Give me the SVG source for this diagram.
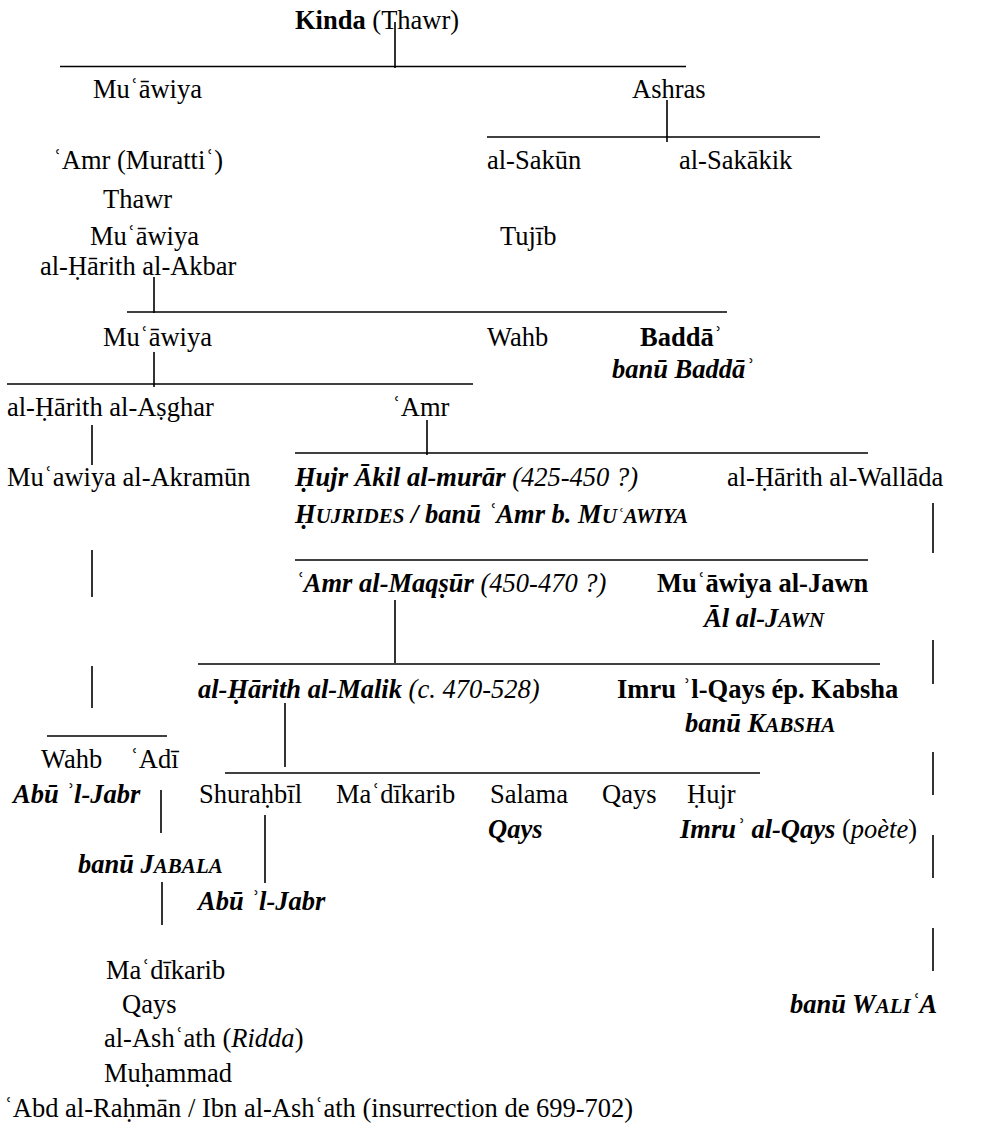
<svg xmlns="http://www.w3.org/2000/svg" width="982" height="1128" viewBox="0 0 982 1128">
<style>
text{font-family:"Liberation Serif","DejaVu Serif",serif;font-size:26.5px;fill:#000}
.b{font-weight:bold}
.i{font-style:italic}
.bi{font-weight:bold;font-style:italic}
.sc{font-size:21px}
.ln{stroke:#000;stroke-width:1.4;fill:none}
.tk{stroke:#000;stroke-width:1.6;fill:none}
</style>
<rect width="982" height="1128" fill="#fff"/>
<g id="connectors">
<line class="tk" x1="395" y1="22" x2="395" y2="68"/>
<line class="ln" x1="60" y1="66.5" x2="686" y2="66.5"/>
<line class="tk" x1="667" y1="100" x2="667" y2="142"/>
<line class="ln" x1="487" y1="137" x2="820" y2="137"/>
<line class="tk" x1="154" y1="277" x2="154" y2="313"/>
<line class="ln" x1="127" y1="312" x2="727" y2="312"/>
<line class="tk" x1="154" y1="352" x2="154" y2="387"/>
<line class="ln" x1="7" y1="384" x2="473" y2="384"/>
<line class="tk" x1="92" y1="425" x2="92" y2="465"/>
<line class="tk" x1="427" y1="420" x2="427" y2="455"/>
<line class="ln" x1="295" y1="453" x2="868" y2="453"/>
<line class="tk" x1="933" y1="503" x2="933" y2="553"/>
<line class="tk" x1="92" y1="550" x2="92" y2="597"/>
<line class="ln" x1="295" y1="560" x2="868" y2="560"/>
<line class="tk" x1="395" y1="600" x2="395" y2="663"/>
<line class="tk" x1="933" y1="640" x2="933" y2="684"/>
<line class="ln" x1="198" y1="664" x2="880" y2="664"/>
<line class="tk" x1="92" y1="666" x2="92" y2="708"/>
<line class="tk" x1="285" y1="703" x2="285" y2="767"/>
<line class="ln" x1="47" y1="736" x2="167" y2="736"/>
<line class="tk" x1="933" y1="752" x2="933" y2="795"/>
<line class="ln" x1="225" y1="773" x2="760" y2="773"/>
<line class="tk" x1="161" y1="790" x2="161" y2="833"/>
<line class="tk" x1="265" y1="815" x2="265" y2="883"/>
<line class="tk" x1="933" y1="835" x2="933" y2="878"/>
<line class="tk" x1="162" y1="882" x2="162" y2="925"/>
<line class="tk" x1="933" y1="928" x2="933" y2="971"/>
</g>
<g id="kinda"><text x="295" y="29"><tspan class="b">Kinda</tspan> (Thawr)</text></g>
<g id="muawiya1"><text x="93" y="98">Muʿāwiya</text></g>
<g id="ashras"><text x="632" y="98">Ashras</text></g>
<g id="amr-muratti"><text x="53" y="169">ʿAmr (Murattiʿ)</text></g>
<g id="sakun"><text x="487" y="169">al-Sakūn</text></g>
<g id="sakakik"><text x="679" y="169">al-Sakākik</text></g>
<g id="thawr"><text x="103" y="208">Thawr</text></g>
<g id="muawiya2"><text x="90" y="245">Muʿāwiya</text></g>
<g id="tujib"><text x="500" y="245">Tujīb</text></g>
<g id="harith-akbar"><text x="40" y="275">al-Ḥārith al-Akbar</text></g>
<g id="muawiya3"><text x="103" y="346">Muʿāwiya</text></g>
<g id="wahb1"><text x="487" y="346">Wahb</text></g>
<g id="badda"><text x="640" y="346" class="b">Baddāʾ</text><text x="612" y="378" class="bi">banū Baddāʾ</text></g>
<g id="harith-asghar"><text x="7" y="416">al-Ḥārith al-Aṣghar</text></g>
<g id="amr2"><text x="392" y="416">ʿAmr</text></g>
<g id="akramun"><text x="7" y="486">Muʿawiya al-Akramūn</text></g>
<g id="hujr-akil"><text x="295" y="486"><tspan class="bi">Ḥujr Ākil al-murār</tspan><tspan class="i"> (425-450 ?)</tspan></text><text x="295" y="523" class="bi">Ḥ<tspan class="sc">UJRIDES</tspan> / banū  ʿAmr b. M<tspan class="sc">UʿAWIYA</tspan></text></g>
<g id="harith-wallada"><text x="727" y="486">al-Ḥārith al-Wallāda</text></g>
<g id="amr-maqsur"><text x="295" y="592"><tspan class="bi">ʿAmr al-Maqṣūr</tspan><tspan class="i"> (450-470 ?)</tspan></text></g>
<g id="muawiya-jawn"><text x="657" y="592" class="b">Muʿāwiya al-Jawn</text><text x="704" y="627" class="bi">Āl al-J<tspan class="sc">AWN</tspan></text></g>
<g id="harith-malik"><text x="198" y="698"><tspan class="bi">al-Ḥārith al-Malik</tspan><tspan class="i"> (c. 470-528)</tspan></text></g>
<g id="imru-kabsha"><text x="617" y="698" class="b">Imru ʾl-Qays ép. Kabsha</text><text x="685" y="732" class="bi">banū K<tspan class="sc">ABSHA</tspan></text></g>
<g id="wahb2"><text x="41" y="768">Wahb</text><text x="13" y="803" class="bi">Abū ʾl-Jabr</text></g>
<g id="adi"><text x="130" y="768">ʿAdī</text><text x="78" y="873" class="bi">banū J<tspan class="sc">ABALA</tspan></text></g>
<g id="shurahbil"><text x="199" y="803">Shuraḥbīl</text><text x="198" y="910" class="bi">Abū ʾl-Jabr</text></g>
<g id="madikarib1"><text x="336" y="803">Maʿdīkarib</text></g>
<g id="salama"><text x="490" y="803">Salama</text><text x="488" y="838" class="bi">Qays</text></g>
<g id="qays1"><text x="602" y="803">Qays</text></g>
<g id="hujr"><text x="687" y="803">Ḥujr</text><text x="680" y="838"><tspan class="bi">Imruʾ al-Qays</tspan> (<tspan class="i">poète</tspan>)</text></g>
<g id="walia"><text x="790" y="1013" class="bi">banū W<tspan class="sc">ALI</tspan>ʿA</text></g>
<g id="madikarib2"><text x="106" y="979">Maʿdīkarib</text></g>
<g id="qays2"><text x="122" y="1013">Qays</text></g>
<g id="ashath"><text x="104" y="1047">al-Ashʿath (<tspan class="i">Ridda</tspan>)</text></g>
<g id="muhammad"><text x="104" y="1082">Muḥammad</text></g>
<g id="abd-rahman"><text x="4" y="1117">ʿAbd al-Raḥmān / Ibn al-Ashʿath (insurrection de 699-702)</text></g>
</svg>
